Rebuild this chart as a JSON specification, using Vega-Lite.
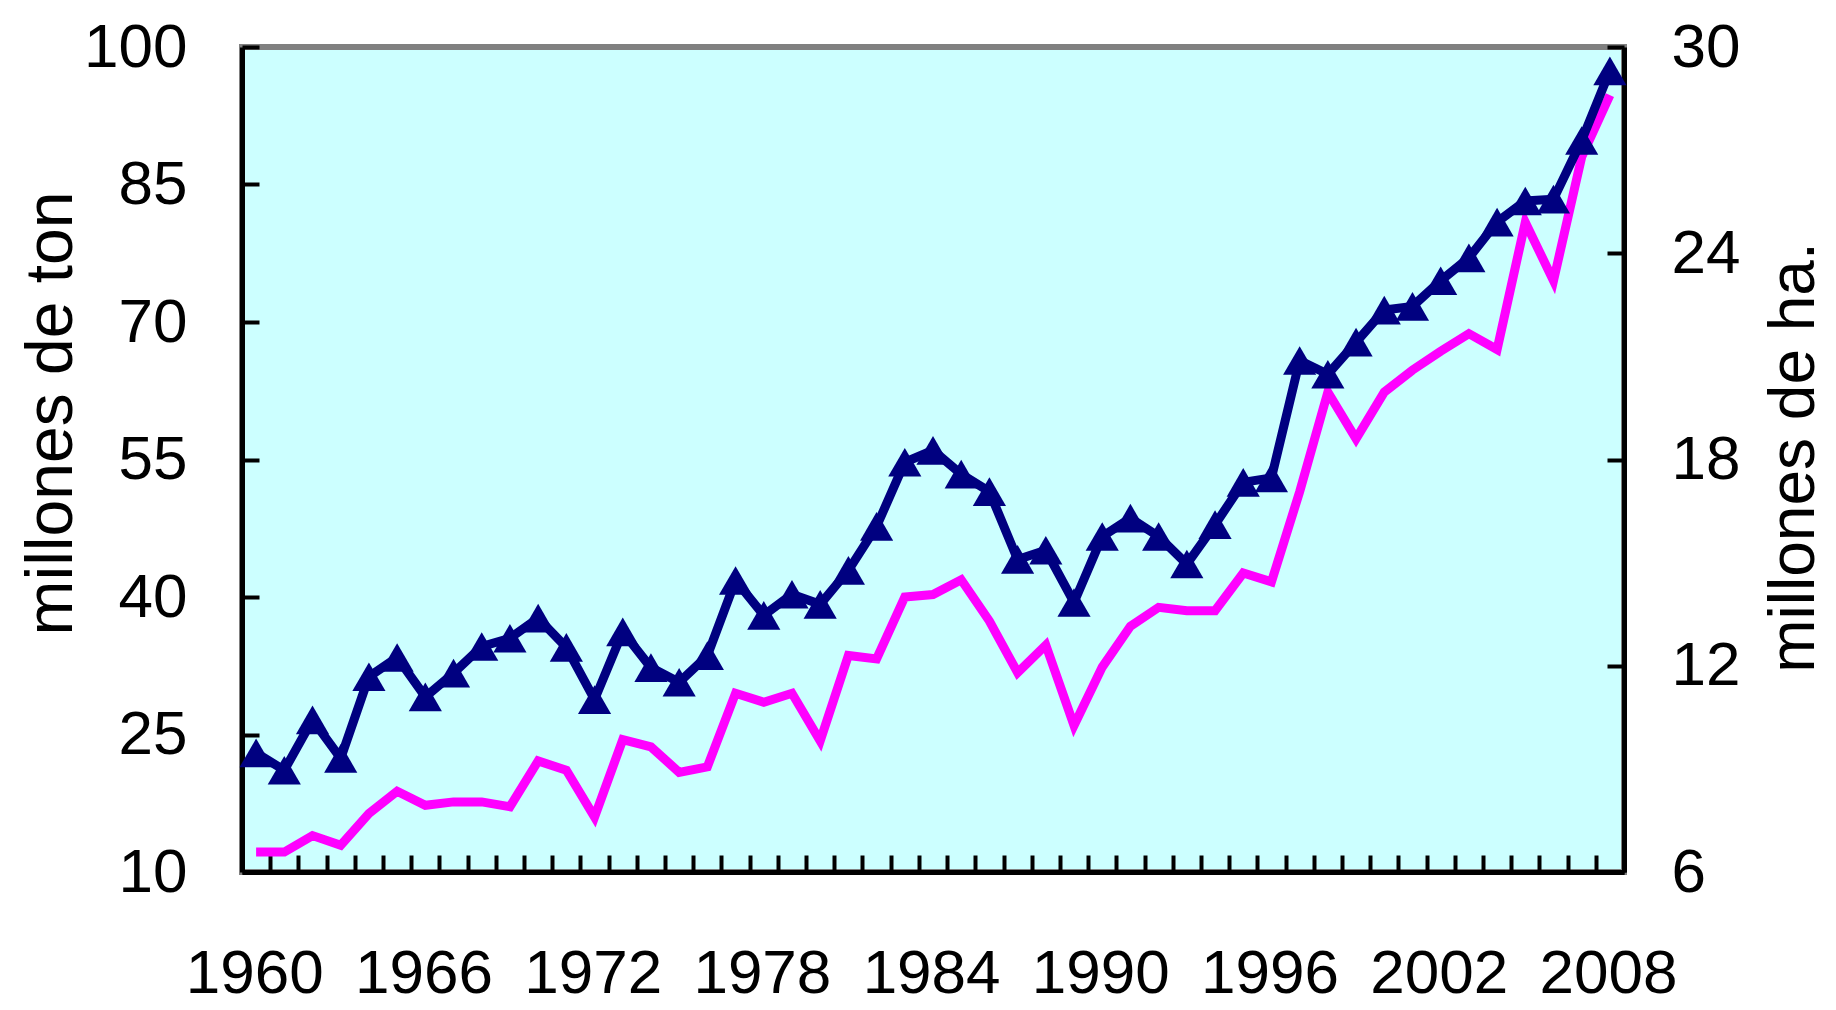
{
  "$schema": "https://vega.github.io/schema/vega-lite/v6.json",
  "width": 1382,
  "height": 825,
  "autosize": {"type": "none"},
  "padding": {"left": 242, "top": 47, "right": 212, "bottom": 138},
  "background": "white",
  "config": {
    "view": {"fill": "#CCFFFF", "stroke": "#808080", "strokeWidth": 6},
    "axis": {
      "domainColor": "black",
      "domainWidth": 5,
      "tickColor": "black",
      "tickWidth": 4,
      "tickSize": -17,
      "grid": false,
      "labelColor": "black",
      "labelFont": "Liberation Sans",
      "labelFontSize": 62,
      "titleFont": "Liberation Sans",
      "titleFontSize": 66,
      "titleFontWeight": "normal",
      "titleColor": "black"
    }
  },
  "data": {
    "values": [
      {"year": 1960, "ton": 23.0, "ha": 6.58},
      {"year": 1961, "ton": 21.1, "ha": 6.58},
      {"year": 1962, "ton": 26.6, "ha": 7.06},
      {"year": 1963, "ton": 22.4, "ha": 6.78},
      {"year": 1964, "ton": 31.3, "ha": 7.7},
      {"year": 1965, "ton": 33.4, "ha": 8.35},
      {"year": 1966, "ton": 29.1, "ha": 7.94},
      {"year": 1967, "ton": 31.7, "ha": 8.04},
      {"year": 1968, "ton": 34.6, "ha": 8.04},
      {"year": 1969, "ton": 35.5, "ha": 7.9},
      {"year": 1970, "ton": 37.7, "ha": 9.23},
      {"year": 1971, "ton": 34.5, "ha": 8.96},
      {"year": 1972, "ton": 28.8, "ha": 7.6},
      {"year": 1973, "ton": 36.2, "ha": 9.85},
      {"year": 1974, "ton": 32.3, "ha": 9.64},
      {"year": 1975, "ton": 30.7, "ha": 8.9},
      {"year": 1976, "ton": 33.6, "ha": 9.06},
      {"year": 1977, "ton": 41.8, "ha": 11.2},
      {"year": 1978, "ton": 38.0, "ha": 10.94},
      {"year": 1979, "ton": 40.3, "ha": 11.2},
      {"year": 1980, "ton": 39.2, "ha": 9.81},
      {"year": 1981, "ton": 42.9, "ha": 12.3},
      {"year": 1982, "ton": 47.7, "ha": 12.2},
      {"year": 1983, "ton": 54.7, "ha": 14.0},
      {"year": 1984, "ton": 56.0, "ha": 14.07},
      {"year": 1985, "ton": 53.4, "ha": 14.5},
      {"year": 1986, "ton": 51.5, "ha": 13.3},
      {"year": 1987, "ton": 44.1, "ha": 11.8},
      {"year": 1988, "ton": 45.1, "ha": 12.6},
      {"year": 1989, "ton": 39.4, "ha": 10.26},
      {"year": 1990, "ton": 46.6, "ha": 11.96},
      {"year": 1991, "ton": 48.6, "ha": 13.15},
      {"year": 1992, "ton": 46.6, "ha": 13.7},
      {"year": 1993, "ton": 43.6, "ha": 13.6},
      {"year": 1994, "ton": 47.9, "ha": 13.6},
      {"year": 1995, "ton": 52.5, "ha": 14.7},
      {"year": 1996, "ton": 53.0, "ha": 14.44},
      {"year": 1997, "ton": 65.8, "ha": 17.06},
      {"year": 1998, "ton": 64.3, "ha": 19.96},
      {"year": 1999, "ton": 67.8, "ha": 18.6},
      {"year": 2000, "ton": 71.3, "ha": 19.96},
      {"year": 2001, "ton": 71.7, "ha": 20.6},
      {"year": 2002, "ton": 74.5, "ha": 21.15},
      {"year": 2003, "ton": 77.0, "ha": 21.66},
      {"year": 2004, "ton": 80.9, "ha": 21.2},
      {"year": 2005, "ton": 83.2, "ha": 24.9},
      {"year": 2006, "ton": 83.4, "ha": 23.2},
      {"year": 2007, "ton": 89.8, "ha": 26.8},
      {"year": 2008, "ton": 97.4, "ha": 28.6}
    ]
  },
  "encoding": {
    "x": {
      "field": "year",
      "type": "quantitative",
      "scale": {"domain": [1959.5, 2008.5], "nice": false, "zero": false},
      "axis": {
        "title": null,
        "values": [1960.5, 1961.5, 1962.5, 1963.5, 1964.5, 1965.5, 1966.5, 1967.5, 1968.5, 1969.5, 1970.5, 1971.5, 1972.5, 1973.5, 1974.5, 1975.5, 1976.5, 1977.5, 1978.5, 1979.5, 1980.5, 1981.5, 1982.5, 1983.5, 1984.5, 1985.5, 1986.5, 1987.5, 1988.5, 1989.5, 1990.5, 1991.5, 1992.5, 1993.5, 1994.5, 1995.5, 1996.5, 1997.5, 1998.5, 1999.5, 2000.5, 2001.5, 2002.5, 2003.5, 2004.5, 2005.5, 2006.5, 2007.5, 2008.5],
        "labelExpr": "((datum.value - 0.5 - 1960) % 6 == 0) ? format(datum.value - 0.5, 'd') : ''",
        "labelOffset": -16,
        "labelFlush": false,
        "labelOverlap": false,
        "labelBaseline": "middle",
        "labelPadding": 118
      }
    }
  },
  "layer": [
    {
      "mark": {"type": "line", "color": "#FF00FF", "strokeWidth": 9},
      "encoding": {
        "y": {
          "field": "ha",
          "type": "quantitative",
          "scale": {"domain": [6, 30], "nice": false, "zero": false},
          "axis": {
            "orient": "right",
            "values": [6, 12, 18, 24, 30],
            "title": "millones de ha.",
            "titleAngle": -90,
            "titleX": 170,
            "titleY": 410,
            "titleFontSize": 64,
            "titleAlign": "center",
            "titleBaseline": "middle",
            "labelPadding": 64,
            "labelAlign": "left"
          }
        }
      }
    },
    {
      "encoding": {
        "y": {
          "field": "ton",
          "type": "quantitative",
          "scale": {"domain": [10, 100], "nice": false, "zero": false},
          "axis": {
            "orient": "left",
            "values": [10, 25, 40, 55, 70, 85, 100],
            "title": "millones de ton",
            "titleAngle": -90,
            "titleX": -191,
            "titleY": 366,
            "titleAlign": "center",
            "titleBaseline": "middle",
            "labelPadding": 72,
            "labelAlign": "right"
          }
        }
      },
      "layer": [
        {"mark": {"type": "line", "color": "#000080", "strokeWidth": 9}},
        {"mark": {"type": "point", "shape": "triangle-up", "filled": true, "color": "#000080", "opacity": 1, "size": 1100}}
      ]
    }
  ],
  "resolve": {"scale": {"y": "independent"}}
}
